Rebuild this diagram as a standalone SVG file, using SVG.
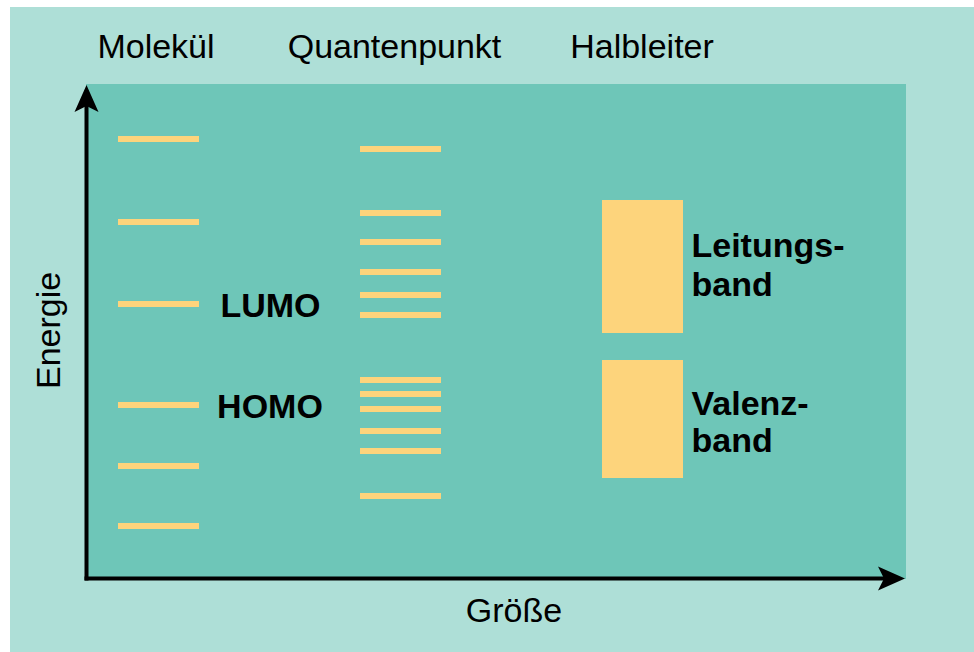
<svg xmlns="http://www.w3.org/2000/svg" width="974" height="652" viewBox="0 0 974 652">
  <style>
    .title { font-family: "Liberation Sans", Arial, sans-serif; font-size: 34px; fill: #000; }
    .bold { font-family: "Liberation Sans", Arial, sans-serif; font-size: 34px; font-weight: bold; fill: #000; }
    .level { stroke: #fdd47c; stroke-width: 6; }
    .band { fill: #fdd47c; }
    .axis { stroke: #000; stroke-width: 4; fill: none; }
  </style>
  <defs>
    <marker id="arrow" markerUnits="userSpaceOnUse" markerWidth="40" markerHeight="40" refX="6" refY="0" orient="auto" overflow="visible">
      <path d="M0,-12 L27,0 L0,12 L6,0 Z" fill="#000"/>
    </marker>
  </defs>

  <!-- page background -->
  <rect x="0" y="0" width="974" height="652" fill="#ffffff"/>
  <rect x="10" y="7" width="964" height="645" fill="#aedfd7"/>
  <!-- plot area -->
  <rect x="86" y="84" width="820" height="495" fill="#6ec6b8"/>

  <!-- column titles -->
  <g id="col-molekuel"><text class="title" x="156" y="58" text-anchor="middle">Molekül</text></g>
  <g id="col-quantenpunkt"><text class="title" x="394.5" y="58" text-anchor="middle">Quantenpunkt</text></g>
  <g id="col-halbleiter"><text class="title" x="642" y="58" text-anchor="middle">Halbleiter</text></g>

  <!-- molecule: discrete orbitals -->
  <g id="molekuel-levels">
    <line class="level" x1="118" y1="139" x2="199" y2="139"/>
    <line class="level" x1="118" y1="222" x2="199" y2="222"/>
    <line class="level" x1="118" y1="304" x2="199" y2="304"/>
    <line class="level" x1="118" y1="405" x2="199" y2="405"/>
    <line class="level" x1="118" y1="466" x2="199" y2="466"/>
    <line class="level" x1="118" y1="526" x2="199" y2="526"/>
  </g>
  <g id="label-lumo"><text class="bold" x="270.5" y="317" text-anchor="middle">LUMO</text></g>
  <g id="label-homo"><text class="bold" x="270" y="418" text-anchor="middle">HOMO</text></g>

  <!-- quantum dot: denser levels -->
  <g id="quantenpunkt-levels">
    <line class="level" x1="360" y1="149" x2="441" y2="149"/>
    <line class="level" x1="360" y1="213" x2="441" y2="213"/>
    <line class="level" x1="360" y1="242" x2="441" y2="242"/>
    <line class="level" x1="360" y1="272" x2="441" y2="272"/>
    <line class="level" x1="360" y1="295" x2="441" y2="295"/>
    <line class="level" x1="360" y1="315" x2="441" y2="315"/>
    <line class="level" x1="360" y1="380" x2="441" y2="380"/>
    <line class="level" x1="360" y1="394" x2="441" y2="394"/>
    <line class="level" x1="360" y1="409" x2="441" y2="409"/>
    <line class="level" x1="360" y1="431" x2="441" y2="431"/>
    <line class="level" x1="360" y1="451" x2="441" y2="451"/>
    <line class="level" x1="360" y1="496" x2="441" y2="496"/>
  </g>

  <!-- semiconductor: continuous bands -->
  <g id="leitungsband">
    <rect class="band" x="602" y="200" width="81" height="133"/>
    <text class="bold" x="691.5" y="257">Leitungs-</text>
    <text class="bold" x="691.5" y="296">band</text>
  </g>
  <g id="valenzband">
    <rect class="band" x="602" y="360" width="81" height="118"/>
    <text class="bold" x="691.5" y="415">Valenz-</text>
    <text class="bold" x="691.5" y="452">band</text>
  </g>

  <!-- axes -->
  <g id="connectors">
    <line class="axis" x1="86.5" y1="580.5" x2="86.5" y2="106" marker-end="url(#arrow)"/>
    <line class="axis" x1="84.5" y1="578.5" x2="884" y2="578.5" marker-end="url(#arrow)"/>
  </g>
  <g id="axis-energie"><text class="title" transform="translate(60,389) rotate(-90)">Energie</text></g>
  <g id="axis-groesse"><text class="title" x="514" y="622" text-anchor="middle">Größe</text></g>
</svg>
